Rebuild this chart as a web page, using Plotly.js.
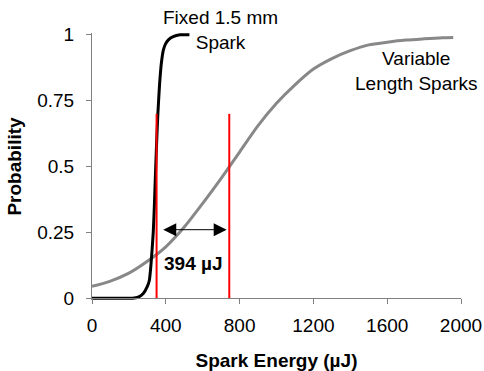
<!DOCTYPE html>
<html><head><meta charset="utf-8">
<script src="https://cdn.plot.ly/plotly-3.0.1.min.js"></script>
<style>html,body{margin:0;padding:0;background:#fff}#c{width:484px;height:371px}</style>
</head><body><div id="c"></div>
<script>
var fixedX = [0,220,250,278,300,311,320,332,338,343,347,352,357,361,367,374,380,387,398,414,440,477,528];
var fixedY = [0,0,0.004,0.018,0.045,0.068,0.13,0.25,0.35,0.45,0.53,0.62,0.7,0.75,0.82,0.88,0.915,0.943,0.965,0.981,0.993,1,1];
var varX = [0,100,200,300,400,500,600,700,800,900,1000,1100,1200,1300,1400,1500,1600,1700,1800,1900,1958];
var varY = [0.045,0.065,0.095,0.14,0.195,0.27,0.36,0.455,0.555,0.655,0.74,0.81,0.87,0.91,0.94,0.962,0.972,0.98,0.985,0.989,0.99];
var markX = [350,744];
var markTop = 0.7;
var arrowY = 0.26;
var diffLabel = '394 µJ';
var xTicks = [0,400,800,1200,1600,2000];
var yTicks = [0,0.25,0.5,0.75,1];
var yTickText = ['0','0.25','0.5','0.75','1'];

var F = 'Liberation Sans, Arial, sans-serif';
var FS = 19;
var pad = 0.007;
function py(v){ return (v+pad)/(1+2*pad); }
var traces = [
  {x: varX, y: varY, mode:'lines', line:{color:'#888888', width:3, shape:'spline', smoothing:0.8}},
  {x: fixedX, y: fixedY, mode:'lines', line:{color:'#000000', width:3, shape:'spline', smoothing:0.5}},
  {x: [markX[0],markX[0]], y:[0,markTop], mode:'lines', line:{color:'#ff0000', width:2}},
  {x: [markX[1],markX[1]], y:[0,markTop], mode:'lines', line:{color:'#ff0000', width:2}}
];
var layout = {
  width:484, height:371, showlegend:false,
  margin:{l:92, r:23, t:33.2, b:71.2, pad:0},
  paper_bgcolor:'#fff', plot_bgcolor:'#fff',
  font:{family:F, size:FS, color:'#000'},
  xaxis:{range:[0,2000], tickvals:xTicks, ticks:'outside', ticklen:5, tickcolor:'#808080',
         showline:true, linecolor:'#808080', linewidth:1, showgrid:false, zeroline:false,
         anchor:'free', position: py(0), ticklabelstandoff:5,
         tickfont:{family:F,size:FS,color:'#000'},
         title:{text:'<b>Spark Energy (µJ)</b>', font:{family:F,size:FS}, standoff:20}},
  yaxis:{range:[-pad,1+pad], tickvals:yTicks, ticktext:yTickText, ticks:'outside', ticklen:5, tickcolor:'#808080',
         showline:true, linecolor:'#808080', linewidth:1, showgrid:false, zeroline:false,
         ticklabelstandoff:8,
         tickfont:{family:F,size:FS,color:'#000'},
         title:{text:'<b>Probability</b>', font:{family:F,size:FS}, standoff:10}},
  annotations:[
    {x:markX[1]-14, y:arrowY, ax:markX[0]+28, ay:arrowY, xref:'x', yref:'y', axref:'x', ayref:'y',
     text:'', showarrow:true, arrowhead:2, startarrowhead:2, arrowside:'end+start', arrowsize:2.6, startarrowsize:2.6, arrowwidth:1, arrowcolor:'#000'},
    {x:548, y:0.133, xref:'x', yref:'y', text:'<b>'+diffLabel+'</b>', showarrow:false, font:{family:F,size:FS,color:'#000'}},
    {x:694, y:py(1.019), xref:'x', yref:'paper', xanchor:'center', yanchor:'middle', text:'Fixed 1.5 mm<br>Spark', showarrow:false, font:{family:F,size:FS,color:'#000'}},
    {x:1761, y:0.864, xref:'x', yref:'y', text:'Variable<br>Length Sparks', showarrow:false, font:{family:F,size:FS,color:'#000'}}
  ]
};
Plotly.newPlot('c', traces, layout, {staticPlot:true});
</script></body></html>
